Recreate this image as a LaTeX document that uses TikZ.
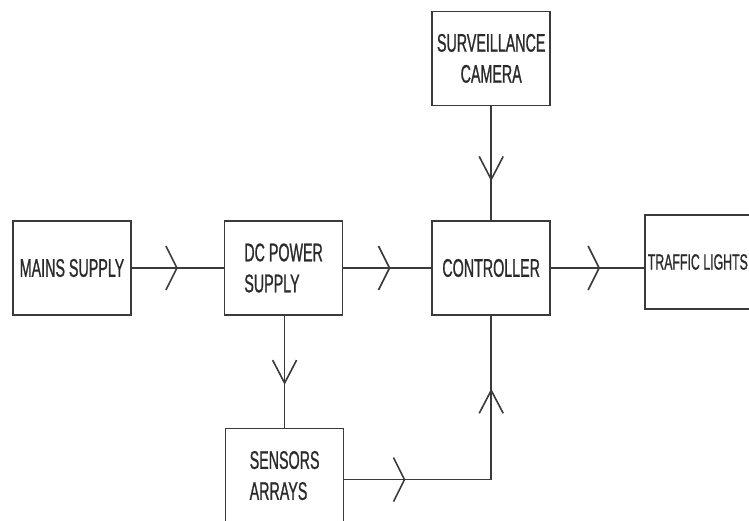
\documentclass[tikz,border=0pt]{standalone}
\usepackage{fontspec}
\newfontfamily\blockfont{Liberation Sans}[FakeStretch=0.56, FakeBold=0.8]
\usetikzlibrary{arrows.meta,positioning,decorations.markings}

\definecolor{linegray}{HTML}{3A3A3A}
\definecolor{textgray}{HTML}{2A2A2A}

\tikzset{
  chevh/.tip={Straight Barb[length=11pt, width=44pt, line width=1.6pt]},
  chevv/.tip={Straight Barb[length=23pt, width=24pt, line width=1.6pt]}
}

\begin{document}
\begin{tikzpicture}[
  x=1pt, y=1pt,
  block/.style={draw=linegray, line width=1.6pt, minimum width=118pt, minimum height=94pt,
    inner sep=2pt, font=\blockfont\fontsize{25.5}{31}\selectfont, text=textgray},
  hlink/.style={draw=linegray, line width=1.6pt, postaction={decorate},
    decoration={markings, mark=at position #1 with {\arrow{chevh}}}},
  vlink/.style={draw=linegray, line width=1.6pt, postaction={decorate},
    decoration={markings, mark=at position #1 with {\arrow{chevv}}}}
]
\useasboundingbox (0,0) rectangle (749,520);
\clip (0,0) rectangle (749,520);

% blocks
\node[block] (mains) at (72,252) {MAINS SUPPLY};
\node[block, align=left, right=92pt of mains] (dc) {DC POWER\\SUPPLY};
\node[block, right=88pt of dc] (ctrl) {CONTROLLER};
\node[block, align=center, above=114pt of ctrl] (camera) {SURVEILLANCE\\CAMERA};
\node[block, font=\blockfont\fontsize{22}{27}\selectfont, text width=112pt, align=left,
  right=93pt of ctrl, yshift=6pt] (traffic) {TRAFFIC\hspace{3.5pt}LIGHTS};
\node[block, align=left, below=112pt of dc, xshift=1pt] (sensors) {SENSORS\\ARRAYS};
\coordinate (joint) at ([yshift=-4pt]ctrl.south |- sensors.east);

% links
\draw[hlink=46pt] (mains.east) -- (mains.east -| dc.west);
\draw[hlink=47pt] (dc.east) -- (ctrl.west);
\draw[hlink=49pt] (ctrl.east) -- (ctrl.east -| traffic.west);
\draw[vlink=75pt] (camera.south) -- (ctrl.north);
\draw[vlink=69pt] (dc.south -| sensors.north) -- (sensors.north);
\draw[hlink=61pt] (sensors.east |- joint) -- (joint);
\draw[vlink=91pt] (joint) -- (ctrl.south);
\end{tikzpicture}
\end{document}
